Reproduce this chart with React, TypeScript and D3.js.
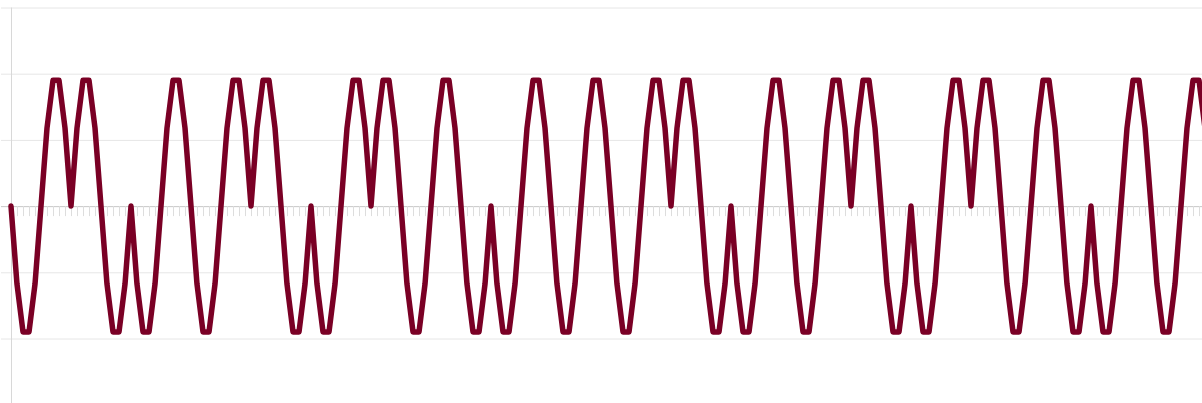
import React, { useEffect, useRef } from 'react';
import * as d3 from 'd3';

// one row per half-wave (5 samples), the last sample closes the series
const signal: number[] = [
  0, -0.59, -0.95, -0.95, -0.59,
  0, 0.59, 0.95, 0.95, 0.59,
  0, 0.59, 0.95, 0.95, 0.59,
  0, -0.59, -0.95, -0.95, -0.59,
  0, -0.59, -0.95, -0.95, -0.59,
  0, 0.59, 0.95, 0.95, 0.59,
  0, -0.59, -0.95, -0.95, -0.59,
  0, 0.59, 0.95, 0.95, 0.59,
  0, 0.59, 0.95, 0.95, 0.59,
  0, -0.59, -0.95, -0.95, -0.59,
  0, -0.59, -0.95, -0.95, -0.59,
  0, 0.59, 0.95, 0.95, 0.59,
  0, 0.59, 0.95, 0.95, 0.59,
  0, -0.59, -0.95, -0.95, -0.59,
  0, 0.59, 0.95, 0.95, 0.59,
  0, -0.59, -0.95, -0.95, -0.59,
  0, -0.59, -0.95, -0.95, -0.59,
  0, 0.59, 0.95, 0.95, 0.59,
  0, -0.59, -0.95, -0.95, -0.59,
  0, 0.59, 0.95, 0.95, 0.59,
  0, -0.59, -0.95, -0.95, -0.59,
  0, 0.59, 0.95, 0.95, 0.59,
  0, 0.59, 0.95, 0.95, 0.59,
  0, -0.59, -0.95, -0.95, -0.59,
  0, -0.59, -0.95, -0.95, -0.59,
  0, 0.59, 0.95, 0.95, 0.59,
  0, -0.59, -0.95, -0.95, -0.59,
  0, 0.59, 0.95, 0.95, 0.59,
  0, 0.59, 0.95, 0.95, 0.59,
  0, -0.59, -0.95, -0.95, -0.59,
  0, -0.59, -0.95, -0.95, -0.59,
  0, 0.59, 0.95, 0.95, 0.59,
  0, 0.59, 0.95, 0.95, 0.59,
  0, -0.59, -0.95, -0.95, -0.59,
  0, 0.59, 0.95, 0.95, 0.59,
  0, -0.59, -0.95, -0.95, -0.59,
  0, -0.59, -0.95, -0.95, -0.59,
  0, 0.59, 0.95, 0.95, 0.59,
  0, -0.59, -0.95, -0.95, -0.59,
  0, 0.59, 0.95, 0.95, 0.59,
  0,
];

const yTicks = [-1, -0.5, 0, 0.5, 1, 1.5];

const WIDTH = 1202;
const HEIGHT = 403;

const App: React.FC = () => {
  const svgRef = useRef<SVGSVGElement>(null);

  useEffect(() => {
    if (!svgRef.current) return;
    const svg = d3.select(svgRef.current);
    svg.selectAll('*').remove();

    const left = 11;
    const step = 6;

    const xScale = d3.scaleLinear()
      .domain([0, signal.length - 1])
      .range([left, left + step * (signal.length - 1)]);

    const yScale = d3.scaleLinear()
      .domain([-1, 1.5])
      .range([338.5, 7.5]);

    const g = svg.append('g');

    // horizontal gridlines
    g.append('g')
      .attr('transform', `translate(${left},0)`)
      .call(d3.axisLeft(yScale)
        .tickValues(yTicks)
        .tickSize(-(WIDTH - left + 10))
        .tickFormat(() => '')
      )
      .call(a => a.select('.domain').remove())
      .call(a => a.selectAll('line').attr('stroke', '#e6e6e6').attr('transform', 'translate(-10,0)'));

    // left axis line
    g.append('line')
      .attr('x1', left + 0.5)
      .attr('x2', left + 0.5)
      .attr('y1', yScale(1.5))
      .attr('y2', HEIGHT)
      .attr('stroke', '#d8d8d8');

    // zero line with a tick per sample
    g.append('g')
      .attr('transform', `translate(0,${yScale(0)})`)
      .call(d3.axisBottom(xScale)
        .tickValues(d3.range(signal.length))
        .tickSize(10)
        .tickSizeOuter(0)
        .tickFormat(() => '')
      )
      .call(a => a.select('.domain').attr('stroke', '#cccccc').attr('d', `M${left - 10},0.5H${WIDTH}`))
      .call(a => a.selectAll('line').attr('stroke', '#dddddd'));

    const line = d3.line<number>()
      .x((_, i) => xScale(i))
      .y(d => yScale(d));

    g.append('path')
      .datum(signal)
      .attr('fill', 'none')
      .attr('stroke', '#7a0025')
      .attr('stroke-width', 5.5)
      .attr('stroke-linejoin', 'round')
      .attr('stroke-linecap', 'round')
      .attr('d', line);
  }, []);

  return (
    <svg
      ref={svgRef}
      width={WIDTH}
      height={HEIGHT}
      style={{ position: 'absolute', left: 0, top: 0, overflow: 'hidden', background: '#ffffff' }}
    />
  );
};

export default App;
